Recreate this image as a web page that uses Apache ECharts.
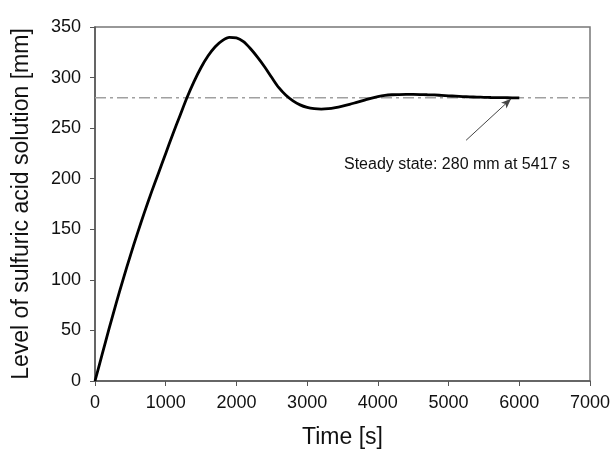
<!DOCTYPE html>
<html>
<head>
<meta charset="utf-8">
<script src="https://cdn.jsdelivr.net/npm/echarts@6/dist/echarts.min.js"></script>
<style>html,body{margin:0;padding:0;background:#fff}#c{width:616px;height:458px}</style>
</head>
<body>
<div id="c"></div>
<script>
const timeValues = [0,100,200,300,400,500,600,700,800,900,1000,1100,1200,1300,1400,1500,1600,1700,1800,1900,2000,2100,2200,2300,2400,2500,2600,2700,2800,2900,3000,3100,3200,3300,3400,3500,3600,3700,3800,3900,4000,4100,4200,4300,4400,4500,4600,4700,4800,4900,5000,5100,5200,5300,5400,5500,5600,5700,5800,5900,6000];
const levelValues = [0,26,52,77,101,124,146,167,187,206,225,244,262,280,296,310,321.5,330.5,336.5,339.8,339.3,335.5,328.5,320,310.5,300,290,282.5,277,273,270.5,269.2,268.8,269.2,270.3,271.8,273.5,275.5,277.5,279.5,281.2,282.4,283,283.2,283.3,283.3,283.2,283,282.8,282.4,282,281.6,281.2,280.9,280.7,280.5,280.3,280.2,280.1,280,280];
const steadyLevel = 280;
const steadyLineX = [0, 7000];
const arrowTail = [5248, 238];
const arrowTip = [5884, 279];
const annotationText = 'Steady state: 280 mm at 5417 s';
const xTicks = {min: 0, max: 7000, interval: 1000};
const yTicks = {min: 0, max: 350, interval: 50};

const chart = echarts.init(document.getElementById('c'), null, {renderer: 'canvas'});
const font = 'Arial, "Liberation Sans", sans-serif';
chart.setOption({
  animation: false,
  backgroundColor: '#fff',
  grid: {left: 95, right: 26, top: 27, bottom: 77, show: true, borderColor: '#777', borderWidth: 1.5},
  xAxis: {
    type: 'value', min: xTicks.min, max: xTicks.max, interval: xTicks.interval,
    name: 'Time [s]', nameLocation: 'middle', nameGap: 45,
    nameTextStyle: {fontFamily: font, fontSize: 23, color: '#111'},
    axisLine: {show: true, lineStyle: {color: '#555', width: 1.5}},
    axisTick: {show: true, length: 5, lineStyle: {color: '#555'}},
    axisLabel: {fontFamily: font, fontSize: 18, color: '#111', margin: 13, formatter: v => String(v)},
    splitLine: {show: false}
  },
  yAxis: {
    type: 'value', min: yTicks.min, max: yTicks.max, interval: yTicks.interval,
    name: 'Level of sulfuric acid solution [mm]', nameLocation: 'middle', nameGap: 62,
    nameTextStyle: {fontFamily: font, fontSize: 23, color: '#111'},
    axisLine: {show: true, lineStyle: {color: '#555', width: 1.5}},
    axisTick: {show: true, length: 5, lineStyle: {color: '#555'}},
    axisLabel: {fontFamily: font, fontSize: 18, color: '#111', margin: 14, formatter: v => String(v)},
    splitLine: {show: false}
  },
  series: [
    {
      type: 'line', data: steadyLineX.map(x => [x, steadyLevel]),
      symbol: 'none', silent: true,
      lineStyle: {color: '#a0a0a0', width: 1.5, type: [11, 4, 3, 4]},
      z: 1
    },
    {
      type: 'line', data: timeValues.map((t, i) => [t, levelValues[i]]),
      symbol: 'none', smooth: 0.3,
      lineStyle: {color: '#000', width: 2.8},
      z: 3,
      markLine: {
        silent: true, symbol: ['none', 'arrow'], symbolSize: [6, 10],
        label: {show: false},
        lineStyle: {color: '#444', width: 1, type: 'solid'},
        data: [[{coord: arrowTail}, {coord: arrowTip}]]
      }
    }
  ],
  graphic: [{
    type: 'text', left: 344, top: 157,
    style: {text: annotationText, fontFamily: font, fontSize: 16, fill: '#111'}
  }]
});
</script>
</body>
</html>
